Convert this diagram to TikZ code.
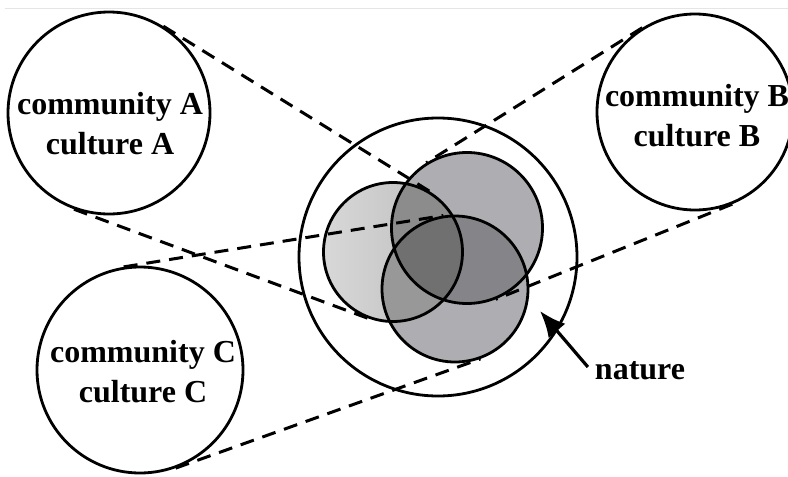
\documentclass[tikz,border=0pt]{standalone}
\usepackage{fontspec}
\setmainfont{Liberation Serif}
\usetikzlibrary{arrows.meta}
\definecolor{disclight}{RGB}{216,216,216}
\definecolor{discleftedge}{RGB}{186,186,186}
\definecolor{discmid}{RGB}{174,174,178}
\definecolor{overlaponetwo}{RGB}{140,140,140}
\definecolor{overlaponethree}{RGB}{152,152,152}
\definecolor{overlaptwothree}{RGB}{133,133,137}
\definecolor{overlapall}{RGB}{112,112,112}
\tikzset{
  ring/.style={circle, draw, line width=1.4pt, inner sep=0pt},
  tangentline/.style={dash pattern=on 7pt off 4.5pt, line width=1.5pt}
}
\tikzset{
  bigtext/.style={font=\fontsize{16}{20}\selectfont\bfseries, align=center}
}
\begin{document}
\begin{tikzpicture}[x=0.5pt,y=-0.5pt]
  \useasboundingbox (0,0) rectangle (788,477);
  \draw[black!10, line width=0.5pt] (5,8) -- (788,8);
  % discs inside nature
  \coordinate (p1) at (393,252);
  \coordinate (p2) at (467,228);
  \coordinate (p3) at (455,289);
  \fill[discmid] (p2) circle[radius=37.75pt] (p3) circle[radius=36.5pt];
  \shade[left color=disclight, right color=discleftedge] (p1) circle[radius=34.75pt];
  \begin{scope}
    \clip (p2) circle[radius=37.75pt];
    \fill[overlaptwothree] (p3) circle[radius=36.5pt];
  \end{scope}
  \begin{scope}
    \clip (p1) circle[radius=34.75pt];
    \fill[overlaponetwo] (p2) circle[radius=37.75pt];
    \fill[overlaponethree] (p3) circle[radius=36.5pt];
    \clip (p2) circle[radius=37.75pt];
    \fill[overlapall] (p3) circle[radius=36.5pt];
  \end{scope}
  \node[ring, minimum size=69.5pt] (d1) at (p1) {};
  \node[ring, minimum size=75.5pt] (d2) at (p2) {};
  \node[ring, minimum size=73pt] (d3) at (p3) {};
  \node[ring, minimum size=139pt] (nat) at (438,257) {};
  % communities
  \node[ring, minimum size=101pt] (A) at (109,113) {};
  \node[ring, minimum size=98pt] (B) at (695,112) {};
  \node[ring, minimum size=103pt] (C) at (140,370) {};
  \node[bigtext] (labA) at (110,124) {community A\\culture A};
  \node[bigtext] (labB) at (697,116) {community B\\culture B};
  \node[bigtext] (labC) at (143,372) {community C\\culture C};
  % tangent cones
  \draw[tangentline] (A.58) -- (d1.58);
  \draw[tangentline] (A.-110) -- (d1.-110);
  \draw[tangentline] (B.122) -- (d2.122);
  \draw[tangentline] (B.-68) -- (d2.-68);
  \draw[tangentline] (C.99) -- (d3.99);
  \draw[tangentline] (C.-70) -- (d3.-70);
  % nature label
  \node[bigtext] (natlabel) at (640,371) {nature};
  \coordinate (tip) at (540,311);
  \draw[line width=1.6pt, -{Latex[length=13pt,width=11pt]}] ([yshift=2pt]natlabel.west) -- (tip);
\end{tikzpicture}
\end{document}
